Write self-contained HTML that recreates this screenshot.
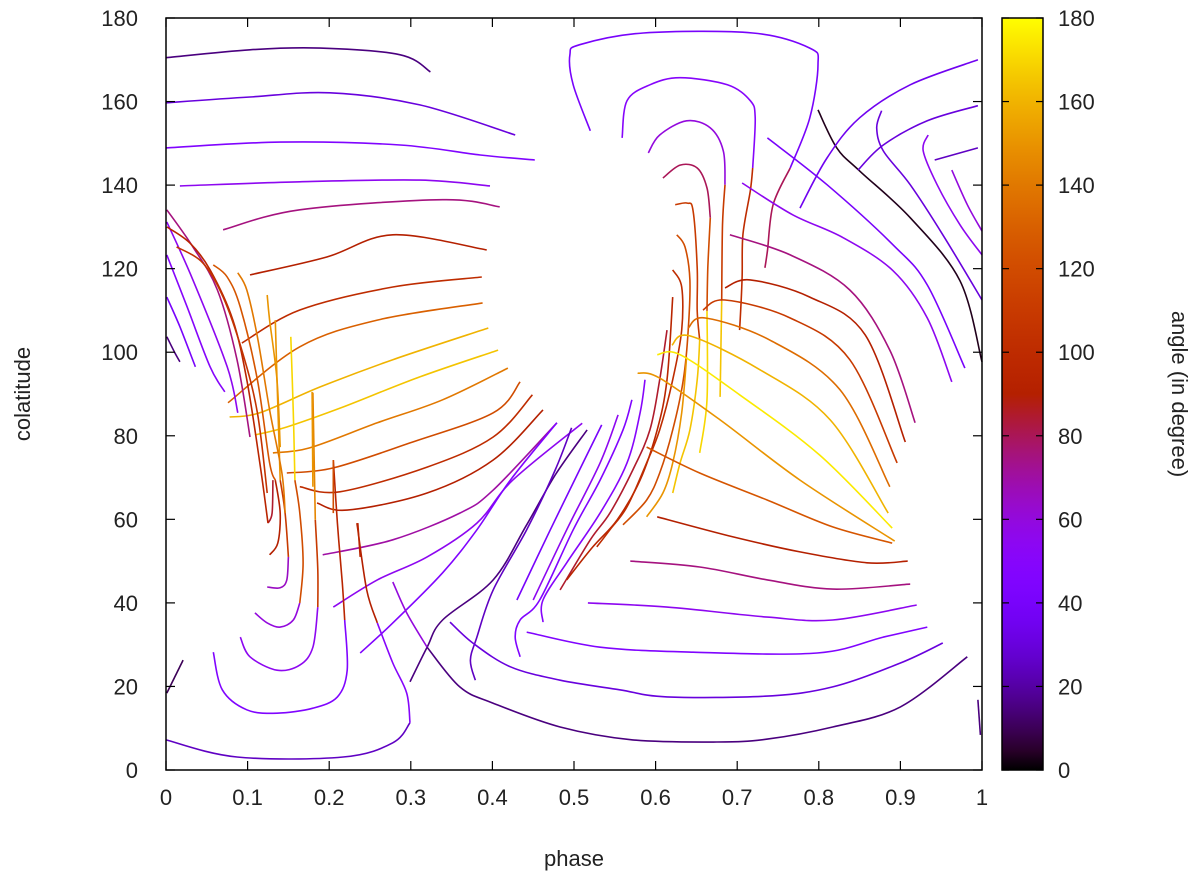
<!DOCTYPE html>
<html><head><meta charset="utf-8">
<style>
html,body{margin:0;padding:0;background:#fff;}
svg text{font-family:"Liberation Sans",sans-serif;font-size:22px;fill:#222;}
</style></head>
<body>
<svg id="chart" width="1200" height="880" viewBox="0 0 1200 880" xmlns="http://www.w3.org/2000/svg">
<defs><linearGradient id="cbgrad" x1="0" y1="1" x2="0" y2="0"></linearGradient></defs>
<g id="lines"></g>
<g id="axes"></g>
<text x="574" y="866" text-anchor="middle">phase</text>
<text transform="translate(30,394) rotate(-90)" text-anchor="middle">colatitude</text>
<text transform="translate(1172,394) rotate(90)" text-anchor="middle">angle (in degree)</text>
</svg>
<script>
// ---- data ----
const xTicks = [0,0.1,0.2,0.3,0.4,0.5,0.6,0.7,0.8,0.9,1];
const xTickLabels = ["0","0.1","0.2","0.3","0.4","0.5","0.6","0.7","0.8","0.9","1"];
const yTicks = [0,20,40,60,80,100,120,140,160,180];
const cbTicks = [0,20,40,60,80,100,120,140,160,180];
// streamline angles (colour values)
const angles = [15,30,45,55,75,90,100,130,160,165,140,120,100,90,70,55,45,15,25,45,50,40,55,85,95,100,120,150,165,110,170,120,80,165,110,60,100,50,80,40,90,110,135,160,175,150,125,90,75,55,45,30,60,15,40,55,75,3,30,55,60,35,30,25,25,50,90,45,95,55,110,145,60,120,170,65,110,150,90,85,55,50,40,15,75,95,105,125,140,150,150,120,95,10,15];
// streamline paths [phase, colatitude]
const paths = [
[[0,170.5],[.103,172.4],[.189,172.8],[.287,171.2],[.324,167.1]],
[[0,159.7],[.103,161.1],[.201,162.1],[.311,159.2],[.428,152]],
[[0,148.9],[.14,150.3],[.287,149.6],[.385,147.2],[.452,146]],
[[.017,139.8],[.164,140.8],[.311,141.2],[.397,139.8]],
[[.07,129.3],[.164,134.1],[.339,136.5],[.409,134.8]],
[[.103,118.5],[.197,122.8],[.278,128.1],[.393,124.5]],
[[.093,102.2],[.164,110.1],[.278,115.6],[.387,118]],
[[.076,87.9],[.164,101.3],[.259,107.7],[.388,111.8]],
[[.078,84.5],[.115,85.5],[.189,91.7],[.278,98.2],[.395,105.8]],
[[.109,80.2],[.148,82.1],[.217,86.9],[.311,94.1],[.407,100.5]],
[[.131,75.9],[.176,77.1],[.259,83.1],[.339,88.6],[.419,96.2]],
[[.148,71.1],[.205,72.3],[.299,78.3],[.401,85.5],[.434,92.9]],
[[.164,67.8],[.213,66.6],[.32,72.5],[.401,79.7],[.449,89.8]],
[[.185,63.9],[.222,62.2],[.32,66.3],[.401,74.2],[.462,86.2]],
[[.192,51.5],[.278,55.1],[.36,61.5],[.401,67],[.479,83.1]],
[[.205,39],[.259,45.5],[.32,51],[.381,59.1],[.425,69.4],[.51,83]],
[[.238,28],[.278,35.2],[.339,47.2],[.381,57.5],[.422,69.4],[.479,83.1]],
[[.299,21.1],[.32,29.4],[.339,35.9],[.401,45.5],[.442,58.7],[.477,70.6],[.516,81.4]],
[[.379,21.5],[.373,26.3],[.381,31.8],[.401,43.1],[.442,57.5],[.477,71.8],[.497,81.9]],
[[.434,27.1],[.428,31.8],[.434,35.9],[.458,40.7],[.499,57.5],[.532,69.4],[.56,81.4],[.571,88.6]],
[[.462,35.4],[.462,40.7],[.491,49.6],[.532,61.5],[.565,73.5],[.581,85.5],[.587,93.4]],
[[.43,40.7],[.471,57.5],[.511,73.5],[.534,82.6]],
[[.45,40.7],[.491,57.5],[.532,73.5],[.554,85]],
[[.483,43.1],[.52,55.1],[.544,61.5],[.572,71.8],[.593,81.4],[.605,93.4],[.614,105.3]],
[[.491,45.5],[.523,53.4],[.553,59.9],[.581,69.4],[.602,81.4],[.614,93.4],[.621,113.2]],
[[.528,53.4],[.544,57.5],[.565,63],[.589,73.5],[.605,81.4],[.621,93.4],[.632,105.3],[.632,115.6],[.621,119.7]],
[[.56,58.7],[.589,64.6],[.605,71.1],[.621,81.4],[.634,93.4],[.64,105.3],[.642,117.3],[.636,125.2],[.626,128.1]],
[[.589,60.6],[.609,66.3],[.621,73.5],[.632,85.5],[.638,98.9]],
[[.621,66.3],[.63,73.5],[.642,81.4],[.651,93.4],[.654,102.9]],
[[.654,102.9],[.651,109.9],[.651,120.2],[.646,133.8],[.639,135.7],[.624,135.3]],
[[.654,75.9],[.663,88.6],[.663,109.9]],
[[.663,109.9],[.664,120.2],[.667,132.2]],
[[.667,132.2],[.663,139.3],[.651,144.1],[.63,144.8],[.609,141.7]],
[[.679,89.3],[.681,112.3]],
[[.681,112.3],[.682,130.5],[.685,140.1]],
[[.685,140.1],[.683,148.2],[.667,153.7],[.638,155.4],[.605,152],[.591,147.7]],
[[.703,105.3],[.706,117.8],[.707,128.1],[.716,138.6],[.719,144.1]],
[[.719,144.1],[.722,156.1],[.716,160.2],[.688,164],[.63,165.7],[.593,164],[.565,160.2],[.559,151.3]],
[[.734,120.2],[.737,124.2],[.744,135.3],[.765,144.1]],
[[.765,144.1],[.789,156.1],[.799,168.8],[.789,172.8],[.719,176.4],[.585,176.4],[.507,173.6],[.495,171.2],[.499,164],[.52,153]],
[[.685,115.4],[.716,117.3],[.789,113.2],[.857,104.1],[.906,78.5]],
[[.658,110.1],[.685,112.5],[.765,108.2],[.838,98.2],[.896,73.5]],
[[.64,105.8],[.661,108.2],[.74,102.9],[.826,91],[.887,67.8]],
[[.62,101.7],[.642,103.9],[.728,95.8],[.814,83.8],[.885,61.5]],
[[.602,99.4],[.63,99.4],[.703,89.8],[.801,75.4],[.89,57.9]],
[[.578,95],[.605,93.8],[.679,83.8],[.777,69.4],[.893,54.8]],
[[.589,77.3],[.654,71.1],[.737,64.6],[.817,58.2],[.89,54.3]],
[[.602,60.6],[.695,55.8],[.777,52.2],[.859,49.6],[.909,50]],
[[.569,50],[.654,48.6],[.737,45.5],[.817,43.3],[.912,44.5]],
[[.517,40],[.614,39],[.737,36.6],[.817,35.9],[.92,39.5]],
[[.442,33],[.532,29.4],[.646,28.2],[.798,28],[.879,31.8],[.933,34.2]],
[[.348,35.4],[.376,30.4],[.422,24.7],[.483,21.5],[.556,19.2],[.614,17.5],[.737,17.7],[.817,19.9],[.9,25.6],[.952,30.4]],
[[.278,45],[.295,37.6],[.32,29.4]],
[[.32,29.4],[.36,19.9],[.401,16],[.483,10.3],[.572,7.2],[.675,6.7],[.737,7.4],[.817,10.3],[.9,15.1],[.982,27.1]],
[[.737,151.3],[.81,140.1],[.891,125.7],[.933,116.1],[.979,96.2]],
[[.706,140.5],[.768,132.9],[.83,127.4],[.891,119.5],[.933,108.2],[.963,92.9]],
[[.691,128.1],[.765,123.3],[.838,114.9],[.887,100.5],[.918,83.1]],
[[.799,158],[.822,148.9],[.85,143.4],[.912,132.2],[.973,117.1],[1,97.7]],
[[.877,157.8],[.871,153.7],[.879,148.2],[.912,140.1],[.952,128.1],[1,112.5]],
[[.934,152],[.928,148.2],[.945,140.1],[.973,130.5],[1,123.3]],
[[.963,143.6],[.982,135.3],[1,129]],
[[.777,134.5],[.81,146.5],[.85,156.1],[.912,164],[.995,170]],
[[.848,143.6],[.879,149.6],[.933,155.4],[.995,159]],
[[.942,146],[.995,148.9]],
[[0,7.2],[.087,3.1],[.217,3.1],[.278,6.5],[.299,11.3]],
[[.299,11.3],[.295,18.4],[.278,25.6],[.259,35.2]],
[[.259,35.2],[.246,43.1],[.234,59.1]],
[[.058,28.2],[.069,19.2],[.099,14.4],[.136,13.6],[.18,14.8],[.21,17.5],[.222,23.9],[.219,35.9]],
[[.219,35.9],[.216,44.8],[.21,59.1],[.205,74.2]],
[[.091,31.8],[.103,27.1],[.136,23.9],[.164,25.1],[.18,29.4],[.186,39]],
[[.186,39],[.186,47.9],[.183,59.9]],
[[.183,59.9],[.18,90.3]],
[[.109,37.6],[.124,35.2],[.14,34.2],[.156,35.9],[.164,40]],
[[.164,40],[.168,49.6],[.164,61.5],[.158,69.4]],
[[.158,69.4],[.156,85.5],[.153,103.7]],
[[.124,43.8],[.14,43.6],[.148,45.5],[.15,51]],
[[.15,51],[.146,61.5],[.14,69.4]],
[[.14,69.4],[.136,93.4],[.134,107.7]],
[[.127,51.5],[.137,54.3],[.14,61.5],[.134,69.4]],
[[.125,59.1],[.13,61.5],[.131,69.4]],
[[.001,131.2],[.033,117.3],[.075,96.5],[.088,85.5]],
[[.001,123.3],[.026,110.8],[.054,96.5],[.072,90.5]],
[[.001,113.2],[.017,106.1],[.036,96.5]],
[[.001,103.7],[.011,99.8],[.017,97.7]],
[[.001,134.1],[.033,125.2],[.063,114.9],[.087,98.2],[.103,79.7]],
[[.001,130],[.029,126.2],[.054,119.7],[.082,107.7],[.099,93.4],[.115,73.5],[.125,59.1]],
[[.013,125.2],[.045,121.4],[.07,113.2],[.094,99.8],[.112,85.5],[.124,66.3]],
[[.058,120.9],[.075,118],[.091,110.8],[.112,93.4],[.127,73.5],[.134,69.4]],
[[.088,119],[.099,114.9],[.112,103.7],[.127,86.2],[.142,71.1],[.146,61.5]],
[[.124,113.7],[.127,107.7],[.136,93.4],[.14,77.3]],
[[.179,90.5],[.18,67.8]],
[[.205,74.2],[.205,61.5]],
[[.235,59.1],[.238,51]],
[[.001,18.4],[.021,26.3]],
[[.995,16.8],[.998,8.4]]
];
// ---- geometry ----
const X0=166,X1=982,Y0=770,Y1=18;
const xs=v=>X0+(X1-X0)*v;
const ys=v=>Y0-(Y0-Y1)*v/180;
function pal(t){t=Math.max(0,Math.min(1,t));
 const r=Math.sqrt(t),g=t*t*t,b=Math.max(0,Math.sin(2*Math.PI*t));
 return `rgb(${Math.round(r*255)},${Math.round(g*255)},${Math.round(b*255)})`;}
function smooth(pts){
 if(pts.length<3) return 'M'+pts.map(p=>p[0].toFixed(1)+','+p[1].toFixed(1)).join(' L');
 let d='M'+pts[0][0].toFixed(1)+','+pts[0][1].toFixed(1);
 for(let i=0;i<pts.length-1;i++){
  const p0=pts[Math.max(0,i-1)],p1=pts[i],p2=pts[i+1],p3=pts[Math.min(pts.length-1,i+2)];
  const c1=[p1[0]+(p2[0]-p0[0])/6,p1[1]+(p2[1]-p0[1])/6];
  const c2=[p2[0]-(p3[0]-p1[0])/6,p2[1]-(p3[1]-p1[1])/6];
  d+=` C${c1[0].toFixed(1)},${c1[1].toFixed(1)} ${c2[0].toFixed(1)},${c2[1].toFixed(1)} ${p2[0].toFixed(1)},${p2[1].toFixed(1)}`;
 }
 return d;}
const NS="http://www.w3.org/2000/svg";
function mk(tag,attrs,parent){const e=document.createElementNS(NS,tag);for(const k in attrs)e.setAttribute(k,attrs[k]);parent.appendChild(e);return e;}
const lg=document.getElementById('lines');
paths.forEach((p,i)=>{
 const px=p.map(q=>[xs(q[0]),ys(q[1])]);
 const el=mk('path',{d:smooth(px),fill:'none',stroke:pal(angles[i]/180),'stroke-width':'1.6','stroke-linejoin':'round'},lg);
 
 
});
const ax=document.getElementById('axes');
const frame=mk('rect',{x:X0,y:Y1,width:X1-X0,height:Y0-Y1,fill:'none',stroke:'#000','stroke-width':'1.5'},ax);


xTicks.forEach((v,i)=>{
 const x=xs(v);
 mk('line',{x1:x,y1:Y0,x2:x,y2:Y0-9,stroke:'#000','stroke-width':'1.2'},ax);
 mk('line',{x1:x,y1:Y1,x2:x,y2:Y1+9,stroke:'#000','stroke-width':'1.2'},ax);
 const t=mk('text',{x:x,y:805,'text-anchor':'middle'},ax);t.textContent=xTickLabels[i];
 
 
});
yTicks.forEach(v=>{
 const y=ys(v);
 mk('line',{x1:X0,y1:y,x2:X0+9,y2:y,stroke:'#000','stroke-width':'1.2'},ax);
 mk('line',{x1:X1,y1:y,x2:X1-9,y2:y,stroke:'#000','stroke-width':'1.2'},ax);
 const t=mk('text',{x:138,y:y+8,'text-anchor':'end'},ax);t.textContent=String(v);
 
 
});
// colorbar
const grad=document.getElementById('cbgrad');
for(let i=0;i<=40;i++){mk('stop',{offset:(i/40),'stop-color':pal(i/40)},grad);}
const CB0=1002,CB1=1043;
const cb=mk('rect',{x:CB0,y:Y1,width:CB1-CB0,height:Y0-Y1,fill:'url(#cbgrad)',stroke:'#000','stroke-width':'1.5'},ax);


cbTicks.forEach(v=>{
 const y=ys(v);
 mk('line',{x1:CB0,y1:y,x2:CB0+7,y2:y,stroke:'#000','stroke-width':'1.2'},ax);
 mk('line',{x1:CB1,y1:y,x2:CB1-7,y2:y,stroke:'#000','stroke-width':'1.2'},ax);
 const t=mk('text',{x:1058,y:y+8,'text-anchor':'start'},ax);t.textContent=String(v);
 
 
});
</script>
</body></html>
